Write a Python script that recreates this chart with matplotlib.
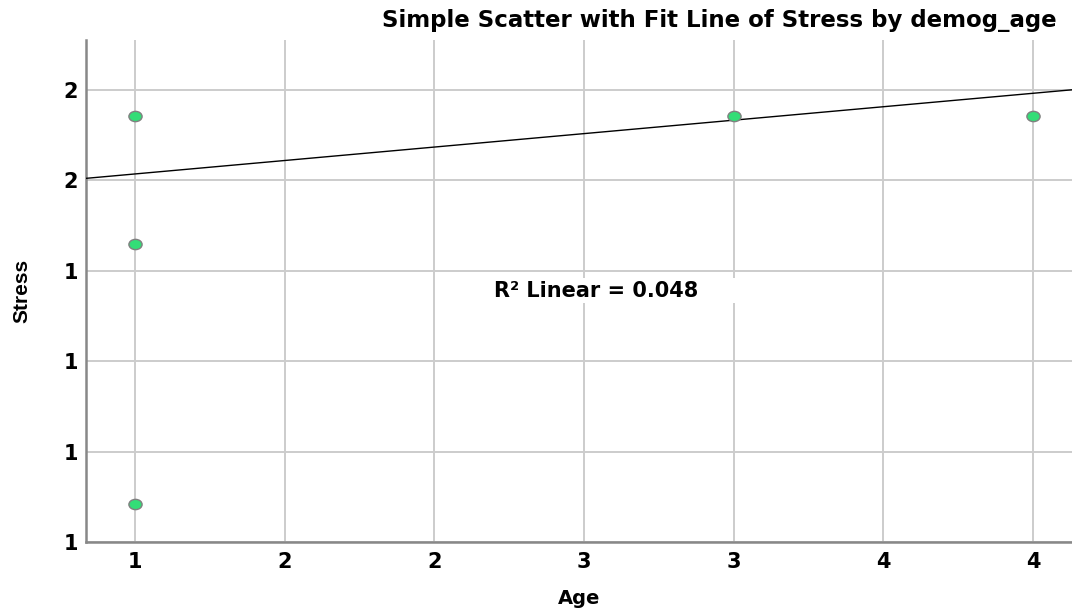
import matplotlib
matplotlib.use("Agg")
import matplotlib.pyplot as plt
from matplotlib.path import Path
from matplotlib.transforms import Affine2D

# data
age = [1, 1, 1, 3, 4]
stress = [1.743, 1.46, 0.885, 1.743, 1.743]
fit_intercept = 1.555
fit_slope = 0.0595
r2_text = "R\u00b2 Linear = 0.048     "

xticks = [1.0, 1.5, 2.0, 2.5, 3.0, 3.5, 4.0]
xtick_labels = ["1", "2", "2", "3", "3", "4", "4"]
yticks = [0.8, 1.0, 1.2, 1.4, 1.6, 1.8]
ytick_labels = ["1", "1", "1", "1", "2", "2"]

plt.rcParams['font.family'] = ['DejaVu Sans']

fig = plt.figure(figsize=(10.72, 6.12), dpi=100)
ax = fig.add_axes([0.0802, 0.1144, 0.9198, 0.8203])
ax.set_xlim(0.836, 4.13)
ax.set_ylim(0.8, 1.911)

ax.set_xticks(xticks)
ax.set_xticklabels(xtick_labels, fontsize=15, fontweight='bold')
ax.set_yticks(yticks)
ax.set_yticklabels(ytick_labels, fontsize=15, fontweight='bold')
ax.tick_params(axis='x', length=0, pad=7)
ax.tick_params(axis='y', length=0, pad=5.5)
ax.grid(True, color='#cccccc', linewidth=1.4)
ax.set_axisbelow(True)

for s in ['top', 'right']:
    ax.spines[s].set_visible(False)
for s in ['left', 'bottom']:
    ax.spines[s].set_color('#888888')
    ax.spines[s].set_linewidth(1.8)

# fit line
xs = ax.get_xlim()
ax.plot(xs, [fit_intercept + fit_slope * x for x in xs], color='black', linewidth=1.0, zorder=3)

# elliptical markers
ell = Path.unit_circle().transformed(Affine2D().scale(1.0, 0.78))
ax.plot(age, stress, linestyle='none', marker=ell, markersize=9.5,
        markerfacecolor='#33dd77', markeredgecolor='#808080', markeredgewidth=1.0, zorder=4)

ax.text(2.198, 1.356, r2_text, fontsize=15, fontweight='bold', va='center', ha='left',
        bbox=dict(facecolor='white', edgecolor='none', pad=2), zorder=5)

fig.text(579 / 1072, 1 - 599 / 612, "Age", fontsize=14, fontweight='bold',
         ha='center', va='center')
fig.text(22 / 1072, 1 - 291 / 612, "Stress", fontsize=15, fontweight='bold',
         family='Liberation Sans', rotation=90, ha='center', va='center')

fig.text(1057 / 1072, 1 - 21 / 612, "Simple Scatter with Fit Line of Stress by demog_age",
         fontsize=16.5, fontweight='bold', ha='right', va='center')

fig.savefig("out.png", dpi=100)
